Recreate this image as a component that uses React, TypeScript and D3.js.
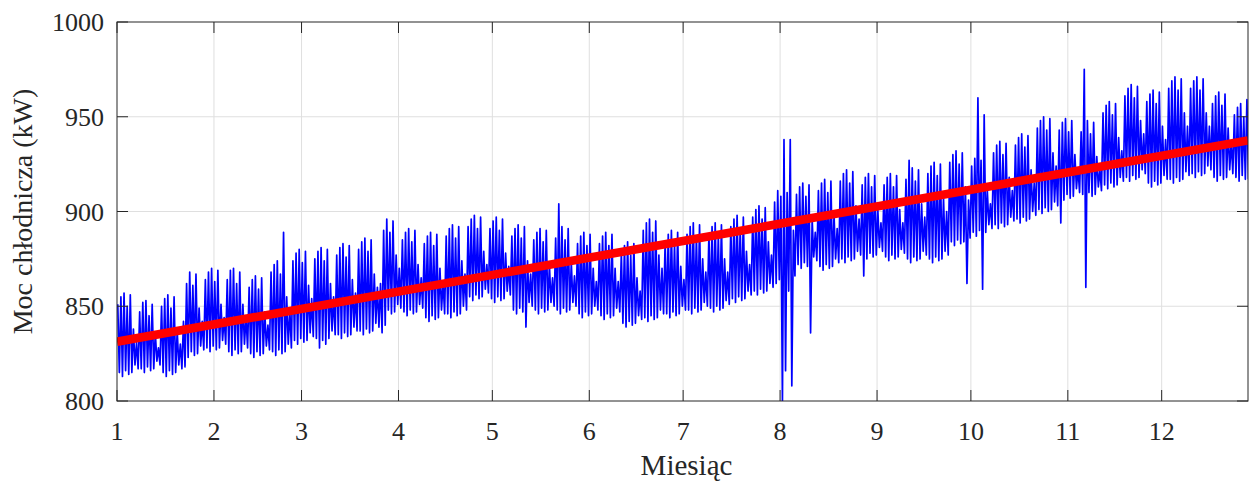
import React from 'react'
import * as d3 from 'd3'

// month starts (day of year) and their labels
const MONTH_TICK_DAYS = [0, 31, 59, 90, 120, 151, 181, 212, 243, 273, 304, 334]
const MONTH_LABELS = ['1', '2', '3', '4', '5', '6', '7', '8', '9', '10', '11', '12']
const Y_TICKS = [800, 850, 900, 950, 1000]
const X_DOMAIN = [0, 361.6]
const Y_DOMAIN = [800, 1000]

// linear trend (red)
const TREND_DAYS = [0, 361.6]
const TREND_KW = [831.3, 937.5]

// daily maxima of cooling power (kW)
const DAILY_HIGH = [
  851, 855, 857, 850, 856, 838, 831, 847, 852, 853, 845, 851, 836, 828,
  850, 854, 856, 849, 855, 837, 830, 842, 862, 868, 861, 867, 849, 842,
  864, 868, 870, 863, 869, 851, 844, 864, 869, 870, 862, 868, 851, 845,
  860, 864, 866, 859, 865, 847, 840, 868, 872, 874, 867, 889, 855, 848,
  874, 878, 880, 873, 879, 861, 854, 875, 879, 881, 874, 880, 862, 855,
  877, 881, 883, 876, 882, 864, 857, 880, 884, 886, 879, 885, 867, 860,
  862, 890, 896, 889, 895, 877, 870, 885, 889, 891, 884, 890, 872, 865,
  883, 887, 889, 882, 888, 870, 863, 887, 891, 893, 886, 892, 874, 867,
  892, 896, 898, 891, 897, 879, 872, 891, 895, 897, 890, 896, 878, 871,
  887, 891, 893, 886, 892, 874, 867, 885, 889, 891, 884, 890, 872, 865,
  886, 904, 892, 885, 891, 873, 866, 883, 887, 889, 882, 888, 870, 863,
  883, 887, 889, 882, 888, 870, 863, 878, 882, 884, 877, 883, 865, 858,
  890, 894, 896, 889, 895, 877, 870, 884, 888, 890, 883, 889, 871, 864,
  888, 892, 894, 887, 893, 875, 868, 888, 892, 894, 887, 893, 875, 868,
  892, 896, 898, 891, 897, 879, 872, 897, 901, 903, 896, 902, 884, 877,
  905, 911, 908, 938, 910, 938, 890, 909, 913, 915, 908, 914, 896, 889,
  911, 915, 917, 910, 916, 898, 891, 916, 920, 922, 915, 921, 903, 896,
  914, 918, 920, 913, 919, 901, 894, 914, 918, 920, 913, 919, 901, 894,
  917, 927, 923, 916, 922, 904, 897, 920, 924, 926, 919, 925, 907, 900,
  926, 930, 932, 925, 931, 913, 906, 924, 928, 960, 927, 951, 911, 904,
  931, 935, 937, 930, 936, 918, 911, 935, 939, 941, 934, 940, 922, 915,
  944, 948, 950, 943, 949, 931, 924, 943, 947, 949, 942, 948, 930, 923,
  942, 975, 948, 941, 947, 929, 922, 952, 956, 958, 951, 957, 939, 932,
  961, 965, 967, 960, 966, 948, 941, 958, 962, 964, 957, 963, 945, 938,
  965, 969, 971, 964, 970, 952, 945, 965, 969, 971, 964, 970, 952, 945,
  957, 961, 963, 956, 962, 944, 937, 951, 955, 957, 950, 959,
]

// daily minima of cooling power (kW)
const DAILY_LOW = [
  815, 813, 816, 814, 815, 819, 817, 817, 815, 818, 816, 817, 821, 819,
  815, 813, 816, 814, 815, 819, 817, 818, 823, 826, 824, 825, 829, 827,
  828, 826, 829, 827, 828, 832, 830, 826, 824, 827, 825, 826, 830, 828,
  825, 823, 826, 824, 825, 829, 827, 826, 824, 827, 825, 826, 830, 828,
  832, 830, 833, 831, 832, 836, 834, 833, 828, 832, 830, 833, 837, 835,
  835, 833, 836, 834, 835, 839, 837, 837, 835, 838, 836, 837, 841, 839,
  836, 840, 848, 846, 847, 851, 849, 847, 845, 848, 846, 847, 851, 849,
  844, 842, 845, 843, 844, 848, 846, 846, 844, 847, 845, 846, 850, 848,
  855, 853, 856, 854, 855, 859, 857, 854, 852, 855, 853, 854, 858, 856,
  848, 846, 849, 847, 839, 852, 850, 848, 846, 849, 847, 848, 852, 850,
  848, 846, 849, 847, 848, 852, 850, 846, 844, 847, 845, 846, 850, 848,
  845, 843, 846, 844, 845, 849, 847, 841, 839, 842, 840, 841, 845, 843,
  844, 842, 845, 843, 844, 848, 846, 846, 844, 847, 845, 846, 850, 848,
  848, 846, 849, 847, 848, 852, 850, 849, 847, 850, 848, 849, 853, 851,
  854, 852, 855, 853, 854, 858, 856, 858, 856, 859, 857, 858, 862, 860,
  862, 864, 799, 816, 858, 808, 866, 872, 870, 873, 871, 836, 876, 874,
  871, 869, 872, 870, 871, 875, 873, 875, 873, 876, 874, 875, 879, 877,
  866, 875, 878, 876, 877, 881, 879, 876, 874, 877, 875, 876, 880, 878,
  875, 873, 876, 874, 875, 879, 877, 875, 873, 876, 874, 875, 879, 877,
  884, 882, 885, 883, 884, 862, 886, 889, 887, 890, 859, 889, 893, 891,
  893, 891, 894, 892, 893, 897, 895, 896, 894, 897, 895, 896, 900, 898,
  901, 899, 902, 900, 901, 905, 903, 894, 906, 909, 907, 908, 912, 910,
  909, 860, 910, 908, 909, 913, 911, 914, 912, 915, 913, 914, 918, 916,
  918, 916, 919, 917, 918, 922, 920, 915, 913, 916, 914, 915, 919, 917,
  917, 915, 918, 916, 917, 921, 919, 920, 918, 921, 919, 920, 924, 922,
  918, 916, 919, 917, 918, 922, 920, 918, 916, 919, 917, 917,
]

const W = 1249
const H = 482
const LEFT = 117
const RIGHT = 1248
const TOP = 22
const BOTTOM = 401
const INK = '#262626'
const GRID = '#dfdfdf'
const FONT = '"Times New Roman", "Liberation Serif", serif'

export default function App() {
  const x = d3.scaleLinear().domain(X_DOMAIN).range([LEFT, RIGHT])
  const y = d3.scaleLinear().domain(Y_DOMAIN).range([BOTTOM, TOP])

  // each day drawn as its peak followed by its trough
  const pts: [number, number][] = []
  DAILY_HIGH.forEach((hi, i) => {
    pts.push([i + 0.25, hi])
    pts.push([i + 0.75, DAILY_LOW[i]])
  })
  const line = d3.line<[number, number]>().x(d => x(d[0])).y(d => y(d[1]))
  const trend = d3.line<number>().x((_, i) => x(TREND_DAYS[i])).y(d => y(d))

  return (
    <div style={{ position: 'absolute', left: 0, top: 0, width: W, height: H, background: '#fff' }}>
      <svg width={W} height={H} style={{ display: 'block' }}>
        <defs>
          <clipPath id="plot">
            <rect x={LEFT} y={TOP} width={RIGHT - LEFT} height={BOTTOM - TOP} />
          </clipPath>
        </defs>
        <rect x={LEFT} y={TOP} width={RIGHT - LEFT} height={BOTTOM - TOP} fill="#fff" />

        {/* grid */}
        <g stroke={GRID} strokeWidth={1}>
          {MONTH_TICK_DAYS.slice(1).map(d => (
            <line key={'gx' + d} x1={x(d)} x2={x(d)} y1={TOP} y2={BOTTOM} />
          ))}
          {Y_TICKS.slice(1, -1).map(v => (
            <line key={'gy' + v} x1={LEFT} x2={RIGHT} y1={y(v)} y2={y(v)} />
          ))}
        </g>

        <g clipPath="url(#plot)">
          <path d={line(pts) || ''} fill="none" stroke="#0000ff" strokeWidth={1.7} strokeLinejoin="round" />
          <path d={trend(TREND_KW) || ''} fill="none" stroke="#ff0000" strokeWidth={8.6} />
        </g>

        {/* box + inward ticks */}
        <g stroke={INK} strokeWidth={1} fill="none">
          <rect x={LEFT} y={TOP} width={RIGHT - LEFT} height={BOTTOM - TOP} />
          {MONTH_TICK_DAYS.map(d => (
            <g key={'tx' + d}>
              <line x1={x(d)} x2={x(d)} y1={BOTTOM} y2={BOTTOM - 11} />
              <line x1={x(d)} x2={x(d)} y1={TOP} y2={TOP + 11} />
            </g>
          ))}
          {Y_TICKS.map(v => (
            <g key={'ty' + v}>
              <line x1={LEFT} x2={LEFT + 11} y1={y(v)} y2={y(v)} />
              <line x1={RIGHT} x2={RIGHT - 11} y1={y(v)} y2={y(v)} />
            </g>
          ))}
        </g>

        <g fill={INK} fontFamily={FONT} fontSize={26}>
          {MONTH_TICK_DAYS.map((d, i) => (
            <text key={'lx' + d} x={x(d)} y={440} textAnchor="middle">{MONTH_LABELS[i]}</text>
          ))}
          {Y_TICKS.map(v => (
            <text key={'ly' + v} x={LEFT - 13} y={y(v)} dy="0.35em" textAnchor="end">{v}</text>
          ))}
          <text x={(LEFT + RIGHT) / 2 + 4} y={475} fontSize={29} textAnchor="middle">Miesiąc</text>
          <text transform={`translate(32,${(TOP + BOTTOM) / 2}) rotate(-90)`} fontSize={28} textAnchor="middle">
            Moc chłodnicza (kW)
          </text>
        </g>
      </svg>
    </div>
  )
}
